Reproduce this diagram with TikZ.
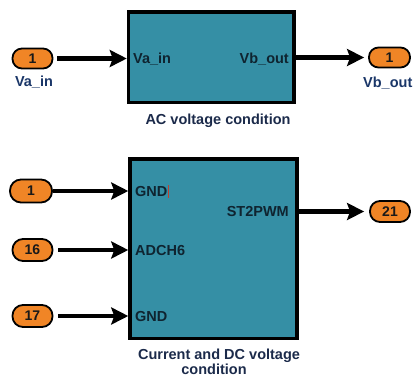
\documentclass[tikz,border=0pt]{standalone}
\usepackage{fontspec}
\setmainfont{Liberation Sans}
\usetikzlibrary{arrows.meta}
\definecolor{blockteal}{HTML}{358FA5}
\definecolor{portorange}{HTML}{F08526}
\definecolor{labelnavy}{HTML}{1A3668}
\definecolor{captionnavy}{HTML}{1B2A4A}
\definecolor{blocktext}{HTML}{0F2430}
\definecolor{cursorred}{HTML}{C04030}
\begin{document}
\begin{tikzpicture}[x=1pt,y=-1pt,
  txt/.style={font=\fontsize{14.5}{19}\selectfont\bfseries, inner sep=0pt},
  blk/.style={draw=black, line width=3.5pt, fill=blockteal, inner sep=0pt},
  port/.style={draw=black, line width=1.8pt, fill=portorange, rounded corners=9.5pt,
    minimum width=40pt, minimum height=20pt, inner sep=0pt,
    font=\fontsize{14}{16}\selectfont\bfseries, text=black!90},
  sig/.style={line width=4.5pt, -{Stealth[length=17pt,width=17pt,inset=3pt]}}
]
\useasboundingbox (0,0) rectangle (414,378);

% blocks
\node[blk, minimum width=165.5pt, minimum height=90.5pt] (b1) at (211.25,57.25) {};
\node[blk, minimum width=167pt, minimum height=179.5pt] (b2) at (213.5,248.75) {};

% ports top
\node[port] (p1) at (32.5,58.5) {1};
\node[port, minimum width=41pt] (o1) at (389.5,57.5) {1};

% ports bottom
\node[port, minimum width=42pt, minimum height=23pt, rounded corners=11pt] (q1) at (31,191) {1};
\node[port, minimum height=22pt, rounded corners=10.5pt] (q2) at (32.5,250) {16};
\node[port, minimum height=22pt, rounded corners=10.5pt] (q3) at (32.5,316) {17};
\node[port, minimum height=21pt, rounded corners=10pt] (q4) at (390,211.5) {21};

% connectors
\draw[sig] ([xshift=4pt]p1.east) -- (p1.east -| b1.west);
\draw[sig] (b1.east |- o1) -- ([xshift=-4pt]o1.west);
\draw[sig] (q1.east) -- (q1.east -| b2.west);
\draw[sig] ([xshift=5pt]q2.east) -- (q2.east -| b2.west);
\draw[sig] ([xshift=5pt]q3.east) -- (q3.east -| b2.west);
\draw[sig] (b2.east |- q4) -- ([xshift=-5pt]q4.west);

% block port texts
\node[txt, text=blocktext, anchor=base west] (t1) at (133,63.2) {Va\_in};
\node[txt, text=blocktext, anchor=base east] (t2) at (289,63.2) {Vb\_out};
\node[txt, text=blocktext, anchor=base west] (t3) at (135,196.2) {GND};
\node[txt, text=blocktext, anchor=base west] (t4) at (135,255.2) {ADCH6};
\node[txt, text=blocktext, anchor=base west] (t5) at (135,321.2) {GND};
\node[txt, text=blocktext, anchor=base east] (t6) at (289,216.2) {ST2PWM};
\draw[cursorred, line width=0.8pt] (168,185) -- (168,198);

% port labels
\node[txt, text=labelnavy, anchor=base] (l1) at (34,86) {Va\_in};
\node[txt, text=labelnavy, anchor=base west] (l2) at (363,87.5) {Vb\_out};

% captions
\node[txt, text=captionnavy, anchor=base] (c1) at (218,124.5) {AC voltage condition};
\node[txt, text=captionnavy, anchor=base] (c2a) at (219,359) {Current and DC voltage};
\node[txt, text=captionnavy, anchor=base] (c2b) at (214,374) {condition};
\end{tikzpicture}
\end{document}
